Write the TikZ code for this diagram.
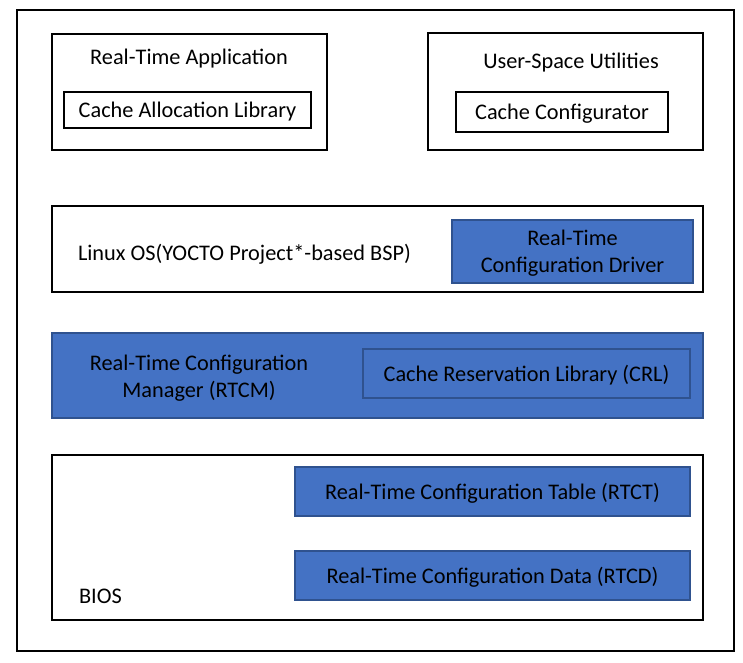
\documentclass[tikz,border=0pt]{standalone}
\usepackage{fontspec}
\setmainfont{Carlito}
\definecolor{ofblue}{HTML}{4472C4}
\definecolor{ofedge}{HTML}{2F528F}
\begin{document}
\begin{tikzpicture}[x=1pt,y=-1pt,
  every node/.style={font=\fontsize{22.3}{27}\selectfont, inner sep=0pt, outer sep=0pt},
  wbox/.style={draw=black, line width=2pt, fill=white, rectangle},
  bbox/.style={draw=ofedge, line width=1.5pt, fill=ofblue, rectangle},
  lbl/.style={align=center},
  txt/.style={label={[lbl, yshift=-2pt]center:#1}}]
\useasboundingbox (0,0) rectangle (743,662);
\node[wbox, minimum width=717, minimum height=641] (outer) at (375.5,330.5) {};
% top left
\node[wbox, minimum width=275, minimum height=116] (app) at (189.5,92) {};
\node[lbl] (appt) at (189,59) {Real-Time Application};
\node[wbox, minimum width=247, minimum height=36, txt={Cache Allocation Library}] (cal) at (187.5,110) {};
% top right
\node[wbox, minimum width=275, minimum height=117] (usu) at (565.5,91.5) {};
\node[lbl] (usut) at (571,63) {User-Space Utilities};
\node[wbox, minimum width=212, minimum height=40, txt={Cache Configurator}] (cc) at (562,112) {};
% linux
\node[wbox, minimum width=651, minimum height=86] (linux) at (377.5,249) {};
\node[anchor=west] (linuxt) at (78,254) {Linux OS(YOCTO Project*-based BSP)};
\node[bbox, minimum width=241, minimum height=63, txt={Real-Time\\Configuration Driver}] (drv) at (572.5,251.5) {};
% rtcm
\node[bbox, minimum width=651, minimum height=85] (rtcm) at (377.5,375.5) {};
\node[lbl] (rtcmt) at (199,378) {Real-Time Configuration\\Manager (RTCM)};
\node[bbox, minimum width=327, minimum height=49, txt={Cache Reservation Library (CRL)}] (crl) at (526.5,373.5) {};
% bios
\node[wbox, minimum width=651, minimum height=165] (bios) at (377.5,537.5) {};
\node[anchor=west] (biost) at (79,596) {BIOS};
\node[bbox, minimum width=395, minimum height=49, txt={Real-Time Configuration Table (RTCT)}] (rtct) at (492.5,491.5) {};
\node[bbox, minimum width=395, minimum height=49, txt={Real-Time Configuration Data (RTCD)}] (rtcd) at (492.5,575.5) {};
\end{tikzpicture}
\end{document}
